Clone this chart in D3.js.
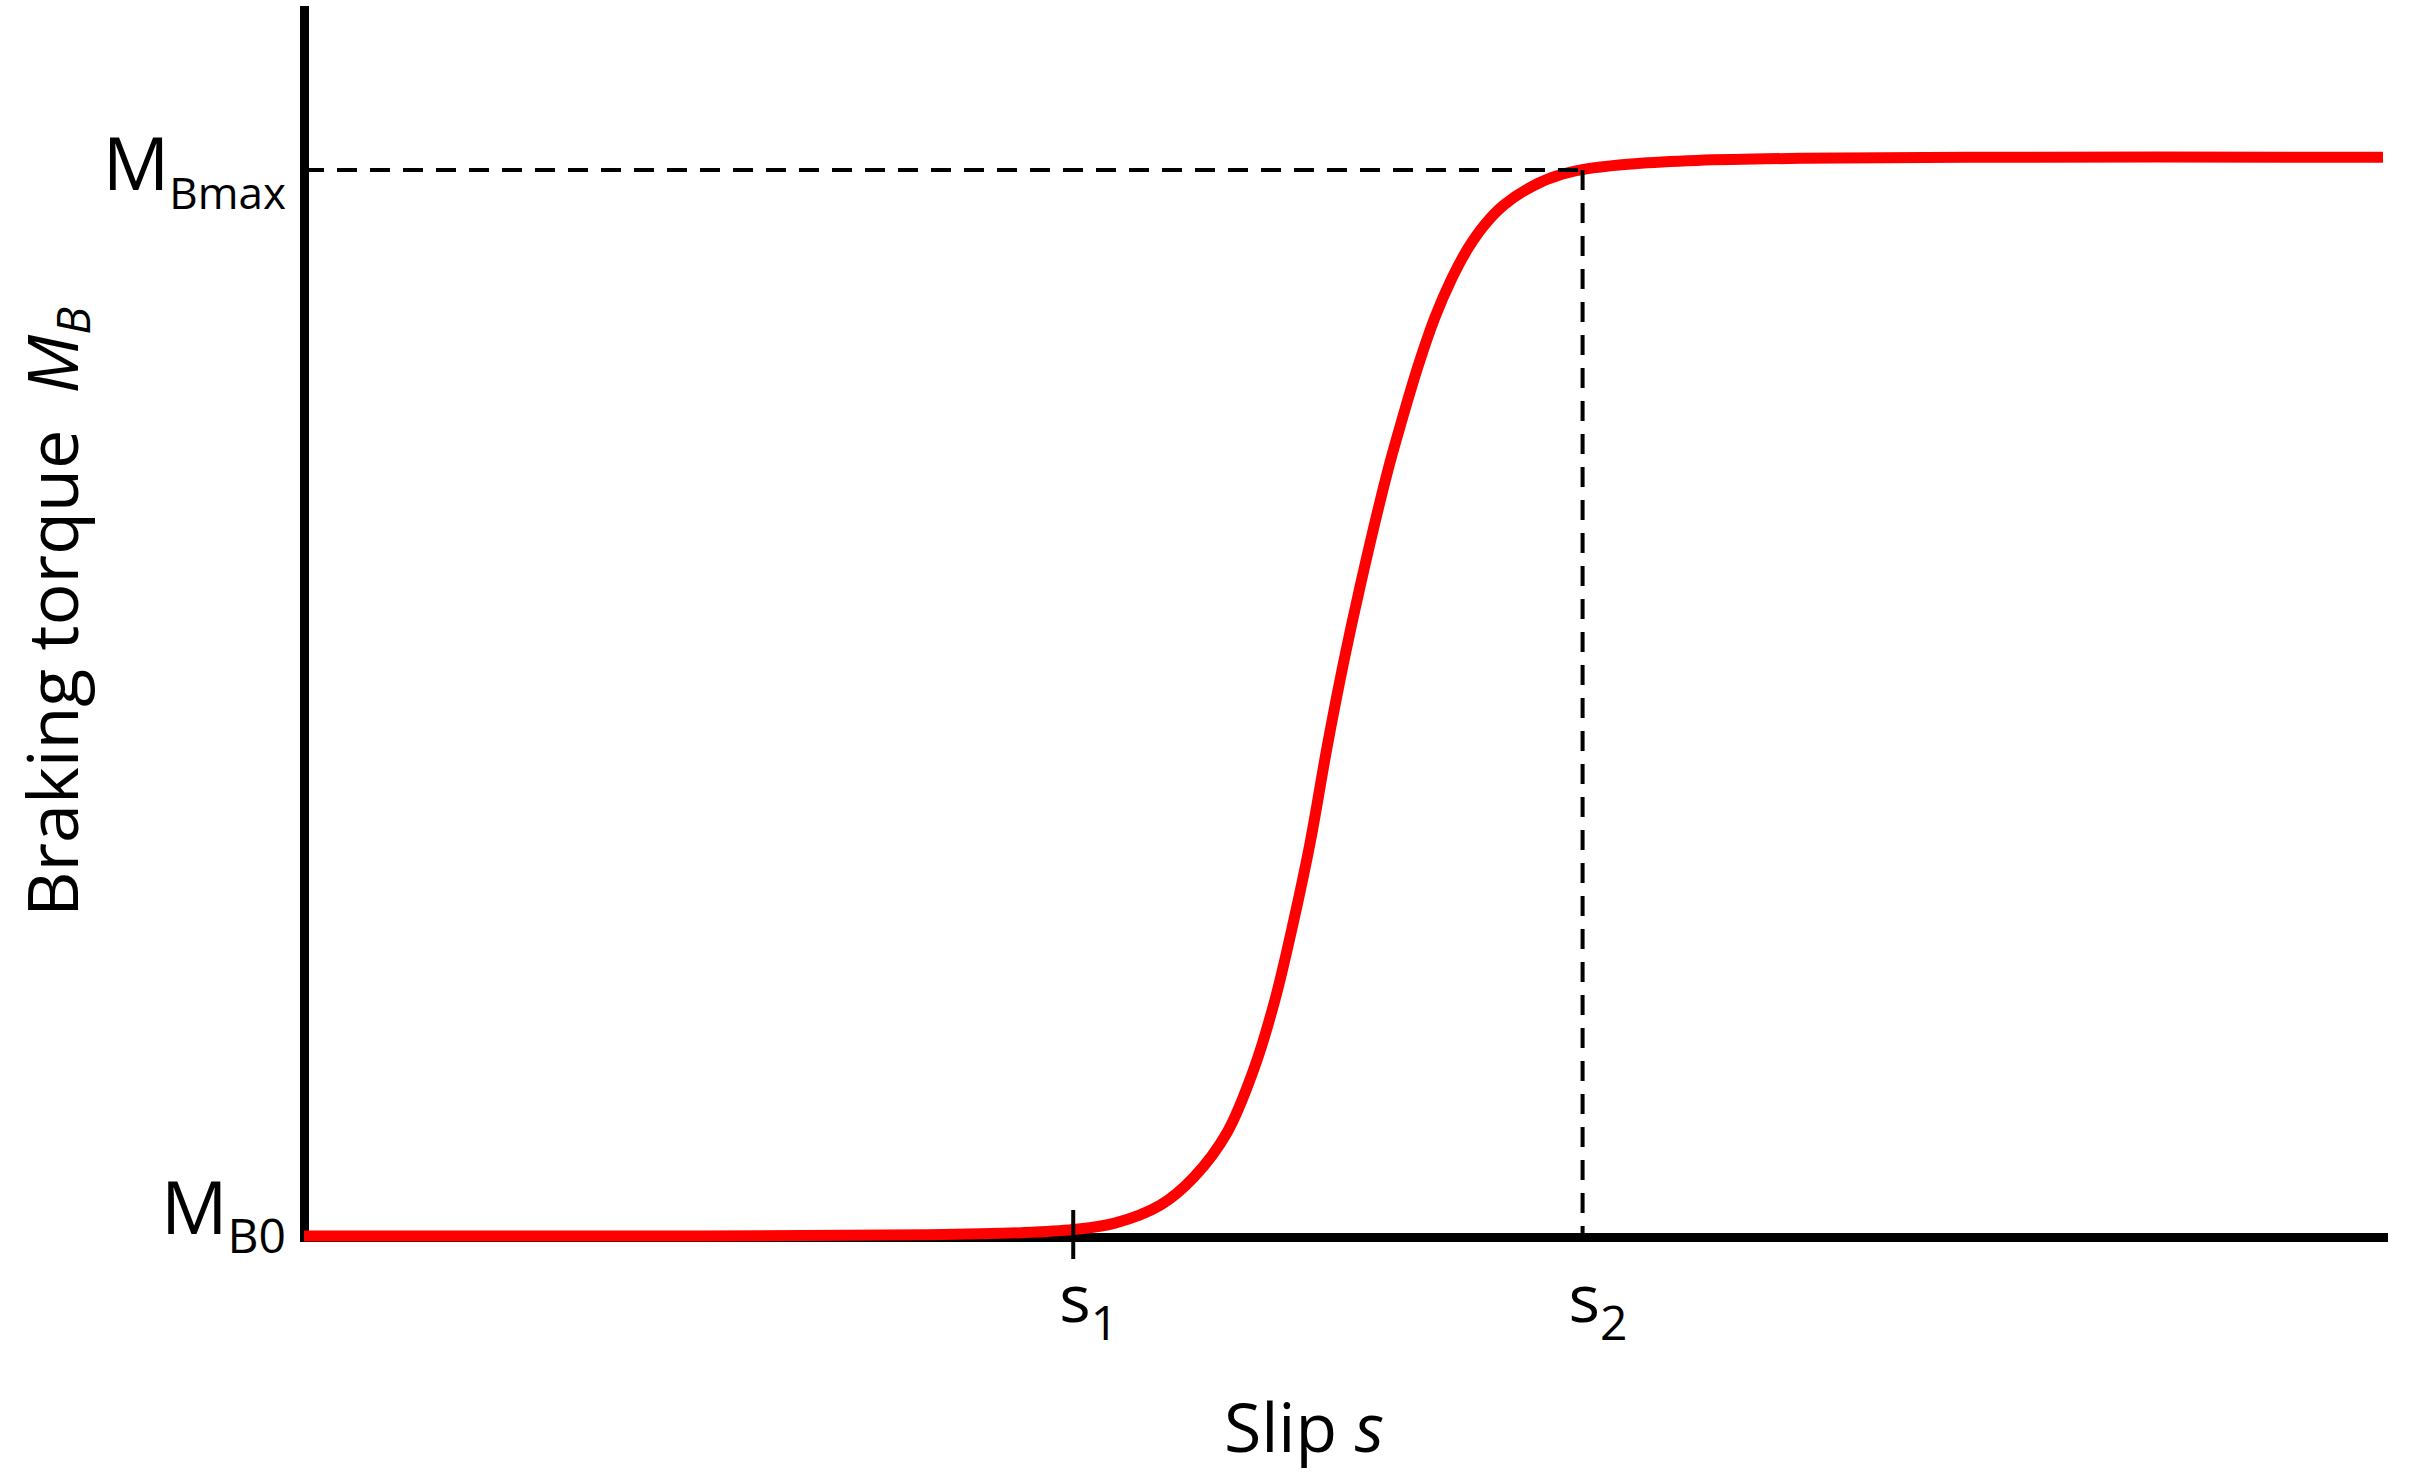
<!DOCTYPE html>
<html>
<head>
<meta charset="utf-8">
<script src="https://cdn.jsdelivr.net/npm/d3@7"></script>
<style>
  body { margin: 0; background: #fff; }
  text { font-family: "Open Sans", sans-serif; fill: #000; }
</style>
</head>
<body>
<div id="chart"></div>
<script>
// curve: slip (0..1) vs braking torque (MB0 = 0, MBmax = 1)
const slip = [0, 0.19, 0.30, 0.345, 0.370, 0.390, 0.412, 0.428, 0.444, 0.457, 0.467, 0.476, 0.484,
  0.492, 0.500, 0.508, 0.521, 0.528, 0.536, 0.544, 0.552, 0.560, 0.568, 0.577, 0.591,
  0.605, 0.620, 0.640, 0.670, 0.720, 0.800, 1.0];
const torque = [0.001, 0.001, 0.002, 0.004, 0.007, 0.013, 0.030, 0.056, 0.098, 0.158, 0.222, 0.296, 0.370,
  0.458, 0.538, 0.610, 0.716, 0.765, 0.817, 0.862, 0.898, 0.927, 0.949, 0.967, 0.985,
  0.996, 1.002, 1.006, 1.009, 1.011, 1.012, 1.012];

const slipMarks = [0.370, 0.615];
const slipSubs = ["1", "2"];
const torqueMarks = [0, 1];
const torqueSubs = ["B0", "Bmax"];

const width = 2412, height = 1484;

const svg = d3.select('#chart')
  .append('svg')
  .attr('width', width)
  .attr('height', height);

const x = d3.scaleLinear().domain([0, 1]).range([304, 2383]);
const y = d3.scaleLinear().domain([0, 1.15]).range([1237, 10]);

// axes, plain lines only
svg.append('g')
  .attr('transform', `translate(0,${y(0)})`)
  .call(d3.axisBottom(x).tickValues([]).tickSizeOuter(0));
svg.append('g')
  .attr('transform', `translate(${x(0)},0)`)
  .call(d3.axisLeft(y).tickValues([]).tickSizeOuter(0));
svg.selectAll('.domain')
  .attr('stroke', '#000')
  .attr('stroke-width', 9)
  .attr('stroke-linecap', 'square');

// the curve
const line = d3.line()
  .x((d, i) => x(slip[i]))
  .y(d => y(d))
  .curve(d3.curveCatmullRom.alpha(0.5));

svg.append('path')
  .datum(torque)
  .attr('d', line)
  .attr('fill', 'none')
  .attr('stroke', '#ff0000')
  .attr('stroke-width', 11);

// s1 tick
svg.append('line')
  .attr('x1', x(slipMarks[0])).attr('x2', x(slipMarks[0]))
  .attr('y1', y(0) - 27).attr('y2', y(0) + 22)
  .attr('stroke', '#000')
  .attr('stroke-width', 4);

// dashed guides to MBmax at s2
svg.append('line')
  .attr('x1', x(0)).attr('x2', x(slipMarks[1]))
  .attr('y1', y(1)).attr('y2', y(1))
  .attr('stroke', '#000').attr('stroke-width', 4)
  .attr('stroke-dasharray', '20 13');
svg.append('line')
  .attr('x1', x(slipMarks[1])).attr('x2', x(slipMarks[1]))
  .attr('y1', y(1)).attr('y2', y(0))
  .attr('stroke', '#000').attr('stroke-width', 4)
  .attr('stroke-dasharray', '20 13');

// slip labels s1, s2
slipMarks.forEach((s, i) => {
  const t = svg.append('text')
    .attr('x', x(s) - 14)
    .attr('y', 1322)
    .attr('font-size', 66);
  t.append('tspan').text('s');
  t.append('tspan').attr('dy', 18).attr('font-size', 48).text(slipSubs[i]);
});

// torque labels MB0, MBmax
torqueMarks.forEach((m, i) => {
  const t = svg.append('text')
    .attr('x', x(0) - 18)
    .attr('y', y(m) + (i === 0 ? -3 : 20))
    .attr('text-anchor', 'end')
    .attr('font-size', 74);
  t.append('tspan').text('M');
  t.append('tspan').attr('dy', 19).attr('font-size', i === 0 ? 48 : 44).text(torqueSubs[i]);
});

// axis titles
const xt = svg.append('text')
  .attr('x', 1304)
  .attr('y', 1452)
  .attr('text-anchor', 'middle')
  .attr('font-size', 68);
xt.append('tspan').text('Slip ');
xt.append('tspan').attr('font-style', 'italic').text('s');

const yt = svg.append('text')
  .attr('transform', 'translate(78,612) rotate(-90)')
  .attr('text-anchor', 'middle')
  .attr('font-size', 70);
yt.append('tspan').text('Braking torque\u00a0 ');
yt.append('tspan').attr('font-style', 'italic').text('M');
yt.append('tspan').attr('font-style', 'italic').attr('font-size', 46).attr('dy', 12).text('B');
</script>
</body>
</html>
